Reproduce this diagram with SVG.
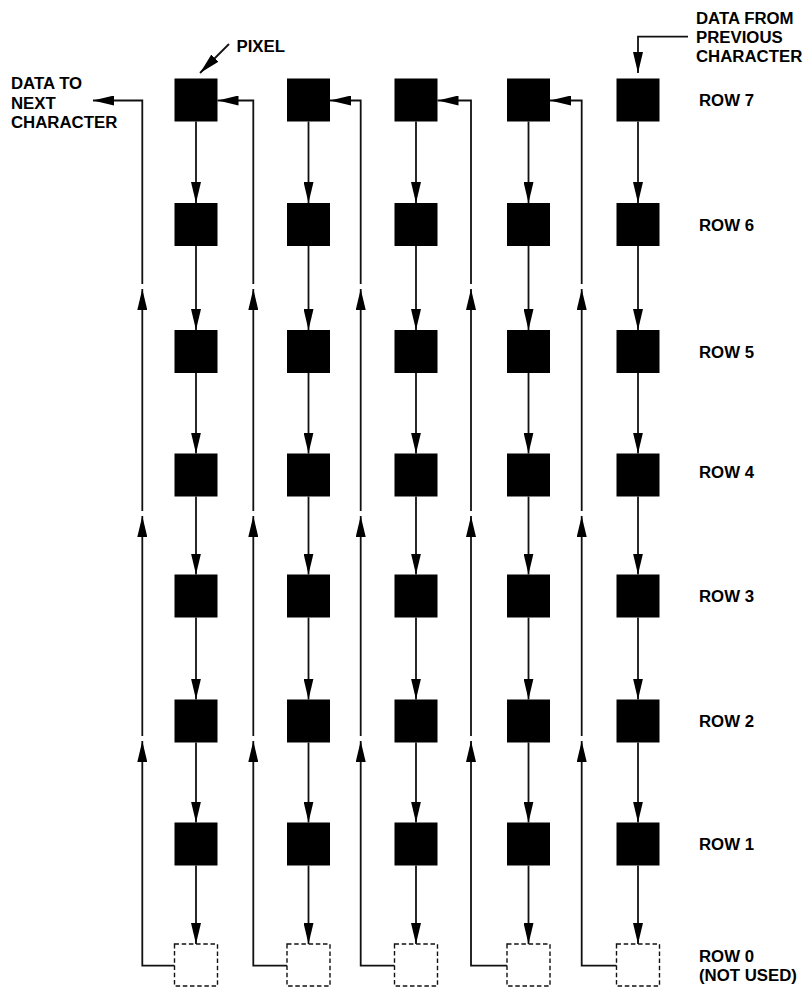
<svg xmlns="http://www.w3.org/2000/svg" width="804" height="989" viewBox="0 0 804 989">
<style>
.px{fill:#000;}
.nu{fill:none;stroke:#111;stroke-width:1.4;stroke-dasharray:4.5 2.7;}
.ln{fill:none;stroke:#111;stroke-width:1.8;marker-end:url(#ah);}
.t{font-family:"Liberation Sans",Arial,sans-serif;font-weight:bold;font-size:16.8px;fill:#000;}
</style>
<defs>
<marker id="ah" markerUnits="userSpaceOnUse" markerWidth="21" markerHeight="10" refX="21" refY="5" orient="auto" viewBox="0 0 21 10">
<path d="M0,0 L21,5 L0,10 z" fill="#000"/>
</marker>
</defs>
<rect width="804" height="989" fill="#fff"/>

<g id="col1">
<rect class="px" x="174.5" y="78.5" width="43" height="43"/>
<rect class="px" x="174.5" y="203" width="43" height="43"/>
<rect class="px" x="174.5" y="330" width="43" height="43"/>
<rect class="px" x="174.5" y="453.5" width="43" height="43"/>
<rect class="px" x="174.5" y="574.5" width="43" height="43"/>
<rect class="px" x="174.5" y="699.5" width="43" height="43"/>
<rect class="px" x="174.5" y="822.5" width="43" height="43"/>
<rect class="nu" x="174.5" y="944" width="43" height="42"/>
</g>
<g id="col2">
<rect class="px" x="287" y="78.5" width="43" height="43"/>
<rect class="px" x="287" y="203" width="43" height="43"/>
<rect class="px" x="287" y="330" width="43" height="43"/>
<rect class="px" x="287" y="453.5" width="43" height="43"/>
<rect class="px" x="287" y="574.5" width="43" height="43"/>
<rect class="px" x="287" y="699.5" width="43" height="43"/>
<rect class="px" x="287" y="822.5" width="43" height="43"/>
<rect class="nu" x="287" y="944" width="43" height="42"/>
</g>
<g id="col3">
<rect class="px" x="394.5" y="78.5" width="43" height="43"/>
<rect class="px" x="394.5" y="203" width="43" height="43"/>
<rect class="px" x="394.5" y="330" width="43" height="43"/>
<rect class="px" x="394.5" y="453.5" width="43" height="43"/>
<rect class="px" x="394.5" y="574.5" width="43" height="43"/>
<rect class="px" x="394.5" y="699.5" width="43" height="43"/>
<rect class="px" x="394.5" y="822.5" width="43" height="43"/>
<rect class="nu" x="394.5" y="944" width="43" height="42"/>
</g>
<g id="col4">
<rect class="px" x="507" y="78.5" width="43" height="43"/>
<rect class="px" x="507" y="203" width="43" height="43"/>
<rect class="px" x="507" y="330" width="43" height="43"/>
<rect class="px" x="507" y="453.5" width="43" height="43"/>
<rect class="px" x="507" y="574.5" width="43" height="43"/>
<rect class="px" x="507" y="699.5" width="43" height="43"/>
<rect class="px" x="507" y="822.5" width="43" height="43"/>
<rect class="nu" x="507" y="944" width="43" height="42"/>
</g>
<g id="col5">
<rect class="px" x="616.5" y="78.5" width="43" height="43"/>
<rect class="px" x="616.5" y="203" width="43" height="43"/>
<rect class="px" x="616.5" y="330" width="43" height="43"/>
<rect class="px" x="616.5" y="453.5" width="43" height="43"/>
<rect class="px" x="616.5" y="574.5" width="43" height="43"/>
<rect class="px" x="616.5" y="699.5" width="43" height="43"/>
<rect class="px" x="616.5" y="822.5" width="43" height="43"/>
<rect class="nu" x="616.5" y="944" width="43" height="42"/>
</g>

<g id="labels">
<text class="t" x="236.5" y="52.3">PIXEL</text>
<text class="t" x="11" y="89">DATA TO</text>
<text class="t" x="11" y="108.5">NEXT</text>
<text class="t" x="11" y="128">CHARACTER</text>
<text class="t" x="696" y="23.5">DATA FROM</text>
<text class="t" x="696" y="42.5">PREVIOUS</text>
<text class="t" x="696" y="61.8">CHARACTER</text>
<text class="t" x="699" y="106">ROW 7</text>
<text class="t" x="699" y="231">ROW 6</text>
<text class="t" x="699" y="358.3">ROW 5</text>
<text class="t" x="699" y="478.3">ROW 4</text>
<text class="t" x="699" y="602">ROW 3</text>
<text class="t" x="699" y="727">ROW 2</text>
<text class="t" x="699" y="850">ROW 1</text>
<text class="t" x="699" y="962.3">ROW 0</text>
<text class="t" x="699" y="981">(NOT USED)</text>
</g>

<g id="connectors">
<path class="ln" d="M229,44 L200,73"/>
<path class="ln" d="M688,36.7 H638 V73"/>
<g id="down">
<path class="ln" d="M196,121.5 V203"/><path class="ln" d="M196,246 V330"/><path class="ln" d="M196,373 V453.5"/><path class="ln" d="M196,496.5 V574.5"/><path class="ln" d="M196,617.5 V699.5"/><path class="ln" d="M196,742.5 V822.5"/><path class="ln" d="M196,865.5 V944"/>
<path class="ln" d="M308.5,121.5 V203"/><path class="ln" d="M308.5,246 V330"/><path class="ln" d="M308.5,373 V453.5"/><path class="ln" d="M308.5,496.5 V574.5"/><path class="ln" d="M308.5,617.5 V699.5"/><path class="ln" d="M308.5,742.5 V822.5"/><path class="ln" d="M308.5,865.5 V944"/>
<path class="ln" d="M416,121.5 V203"/><path class="ln" d="M416,246 V330"/><path class="ln" d="M416,373 V453.5"/><path class="ln" d="M416,496.5 V574.5"/><path class="ln" d="M416,617.5 V699.5"/><path class="ln" d="M416,742.5 V822.5"/><path class="ln" d="M416,865.5 V944"/>
<path class="ln" d="M528.5,121.5 V203"/><path class="ln" d="M528.5,246 V330"/><path class="ln" d="M528.5,373 V453.5"/><path class="ln" d="M528.5,496.5 V574.5"/><path class="ln" d="M528.5,617.5 V699.5"/><path class="ln" d="M528.5,742.5 V822.5"/><path class="ln" d="M528.5,865.5 V944"/>
<path class="ln" d="M638,121.5 V203"/><path class="ln" d="M638,246 V330"/><path class="ln" d="M638,373 V453.5"/><path class="ln" d="M638,496.5 V574.5"/><path class="ln" d="M638,617.5 V699.5"/><path class="ln" d="M638,742.5 V822.5"/><path class="ln" d="M638,865.5 V944"/>
</g>
<g id="ret1">
<path class="ln" d="M174.5,965.7 H142.3 V741"/><path class="ln" d="M142.3,736 V516"/><path class="ln" d="M142.3,511 V289"/><path class="ln" d="M142.3,284 V100.5 H93"/>
</g>
<g id="ret2">
<path class="ln" d="M287,965.7 H253.3 V741"/><path class="ln" d="M253.3,736 V516"/><path class="ln" d="M253.3,511 V289"/><path class="ln" d="M253.3,284 V100.5 H217.5"/>
</g>
<g id="ret3">
<path class="ln" d="M394.5,965.7 H360.7 V741"/><path class="ln" d="M360.7,736 V516"/><path class="ln" d="M360.7,511 V289"/><path class="ln" d="M360.7,284 V100.5 H330"/>
</g>
<g id="ret4">
<path class="ln" d="M507,965.7 H471 V741"/><path class="ln" d="M471,736 V516"/><path class="ln" d="M471,511 V289"/><path class="ln" d="M471,284 V100.5 H437.5"/>
</g>
<g id="ret5">
<path class="ln" d="M616.5,965.7 H581.7 V741"/><path class="ln" d="M581.7,736 V516"/><path class="ln" d="M581.7,511 V289"/><path class="ln" d="M581.7,284 V100.5 H550"/>
</g>
</g>
</svg>
